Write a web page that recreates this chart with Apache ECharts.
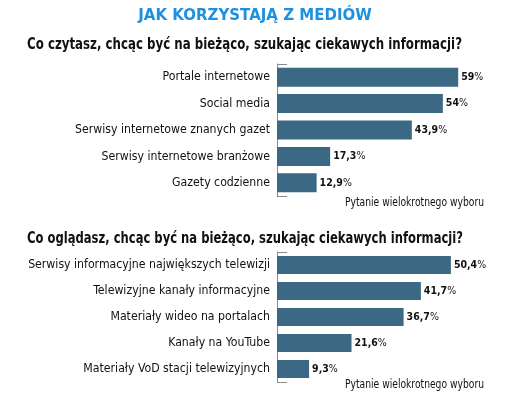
<!DOCTYPE html>
<html><head><meta charset="utf-8">
<script src="https://cdn.jsdelivr.net/npm/echarts@6/dist/echarts.min.js"></script>
<style>html,body{margin:0;padding:0;background:#fff}#c{width:510px;height:397px}</style>
</head><body><div id="c"></div>
<script>
const mainTitle = 'JAK KORZYSTAJĄ Z MEDIÓW';
const question1 = 'Co czytasz, chcąc być na bieżąco, szukając ciekawych informacji?';
const question2 = 'Co oglądasz, chcąc być na bieżąco, szukając ciekawych informacji?';
const note = 'Pytanie wielokrotnego wyboru';
const categories1 = ['Portale internetowe', 'Social media', 'Serwisy internetowe znanych gazet', 'Serwisy internetowe branżowe', 'Gazety codzienne'];
const values1 = [59, 54, 43.9, 17.3, 12.9];
const categories2 = ['Serwisy informacyjne największych telewizji', 'Telewizyjne kanały informacyjne', 'Materiały wideo na portalach', 'Kanały na YouTube', 'Materiały VoD stacji telewizyjnych'];
const values2 = [50.4, 41.7, 36.7, 21.6, 9.3];

const FONT = "'Liberation Sans Narrow', 'DejaVu Sans Condensed', sans-serif";
const BAR = '#3b6882';
const chart = echarts.init(document.getElementById('c'), null, {renderer: 'canvas'});

const mctx = document.createElement('canvas').getContext('2d');
function measure(text, weight, size) {
  mctx.font = weight + ' ' + size + 'px ' + FONT;
  return mctx.measureText(text).width;
}
// text squeezed horizontally to a target width (condensed look)
function fitText(text, x, y, weight, size, targetW, align) {
  const w = measure(text, weight, size);
  const s = Math.min(1, targetW / w);
  return {
    type: 'text', x: align === 'right' ? x - w * s : x, y: y, scaleX: s, silent: true,
    style: {text: text, fontFamily: FONT, fontWeight: weight, fontSize: size, fill: '#111', textVerticalAlign: 'top'}
  };
}

function fmt(v) {
  return '{n|' + String(v).replace('.', ',') + '}{p|%}';
}
const labelCfg = {
  show: true, position: 'right', distance: 3,
  formatter: p => fmt(p.value),
  rich: {
    n: {fontFamily: FONT, fontSize: 10.5, fontWeight: 'bold', color: '#111'},
    p: {fontFamily: FONT, fontSize: 10.5, color: '#111'}
  }
};
const yAxisBase = {
  type: 'category', inverse: true,
  axisLine: {show: true, lineStyle: {color: '#8a8a8a', width: 1}},
  axisTick: {show: false},
  axisLabel: {fontFamily: FONT, fontSize: 12.2, color: '#111', margin: 7}
};
const xAxisBase = {type: 'value', min: 0, show: false, splitLine: {show: false}};

chart.setOption({
  animation: false,
  title: [
    {text: mainTitle, left: 'center', top: 4, textStyle: {fontFamily: "'DejaVu Sans', sans-serif", fontWeight: 'bold', fontSize: 15, color: '#1e90e0'}}
  ],
  grid: [
    {left: 277, top: 64, width: 215, height: 132},
    {left: 277, top: 252, width: 207, height: 130}
  ],
  xAxis: [
    Object.assign({gridIndex: 0, max: 70}, xAxisBase),
    Object.assign({gridIndex: 1, max: 60}, xAxisBase)
  ],
  yAxis: [
    Object.assign({gridIndex: 0, data: categories1}, yAxisBase),
    Object.assign({gridIndex: 1, data: categories2}, yAxisBase)
  ],
  series: [
    {type: 'bar', xAxisIndex: 0, yAxisIndex: 0, data: values1, barWidth: 19, itemStyle: {color: BAR}, label: labelCfg},
    {type: 'bar', xAxisIndex: 1, yAxisIndex: 1, data: values2, barWidth: 18, itemStyle: {color: BAR}, label: labelCfg}
  ]
});

const gfx = [];
[[64, 196], [252, 382]].forEach(([t, b]) => {
  [t, b].forEach(y => gfx.push({type: 'line', shape: {x1: 277, y1: y + 0.5, x2: 287, y2: y + 0.5}, style: {stroke: '#8a8a8a', lineWidth: 1}, silent: true}));
});
gfx.push(fitText(question1, 27, 37, 'bold', 16, 435, 'left'));
gfx.push(fitText(question2, 27, 231, 'bold', 16, 436, 'left'));
gfx.push(fitText(note, 484, 197, 'normal', 11.5, 139, 'right'));
gfx.push(fitText(note, 484, 379, 'normal', 11.5, 139, 'right'));
chart.setOption({graphic: gfx});
</script>
</body></html>
